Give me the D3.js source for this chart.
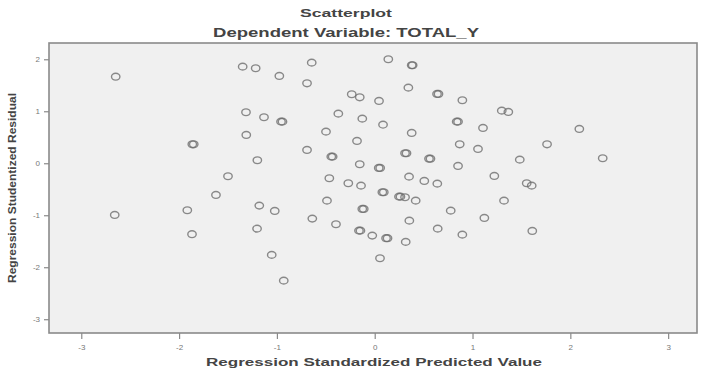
<!DOCTYPE html>
<html>
<head>
<meta charset="utf-8">
<script src="https://cdn.jsdelivr.net/npm/d3@7"></script>
<style>
    html, body { margin: 0; padding: 0; background: #fff; }
    #chart { width: 718px; height: 377px; }
</style>
</head>
<body>
<div id="chart"></div>
<script>
(function () {

    // regression standardized predicted value (x) / studentized residual (y)
    var predX = [
        -2.648, -1.350, -1.217, -0.975, -0.644, 0.139, 0.378, 0.388, -0.692, 0.344,
        0.637, 0.652, -0.235, -0.153, 0.044, 0.896, 1.299, 1.366, -1.316, -1.132,
        -0.958, -0.943, -0.372, -0.127, 0.085, 0.838, 0.852, 1.107, -1.313, -0.498,
        0.378, 2.092, -1.865, -1.850, -0.181, -0.692, 0.869, 1.762, -1.200, -0.444,
        -0.430, 0.310, 0.325, 0.555, 0.570, 1.056, 2.331, 1.483, -0.153, 0.041,
        0.056, 0.852, -1.500, 0.351, 1.223, -0.464, -0.270, -0.140, 0.507, 0.640,
        1.554, 1.605, -1.623, 0.078, 0.093, 0.248, 0.263, 0.310, 0.419, -0.488,
        1.322, -1.916, -1.180, -1.022, -2.658, -0.127, -0.112, 0.777, -0.638, -0.396,
        0.354, 1.121, -1.203, -1.868, 0.644, -0.161, -0.146, -0.025, 0.116, 0.131,
        0.317, 0.896, 1.611, -1.053, 0.054, -0.930
    ];
    var residY = [
        1.665, 1.858, 1.827, 1.679, 1.935, 2.000, 1.885, 1.885, 1.538, 1.454,
        1.333, 1.333, 1.327, 1.269, 1.198, 1.212, 1.012, 0.987, 0.981, 0.885,
        0.800, 0.800, 0.954, 0.858, 0.742, 0.800, 0.800, 0.679, 0.544, 0.608,
        0.583, 0.660, 0.365, 0.365, 0.429, 0.256, 0.365, 0.365, 0.058, 0.127,
        0.127, 0.192, 0.192, 0.088, 0.088, 0.275, 0.096, 0.069, -0.019, -0.090,
        -0.090, -0.052, -0.250, -0.258, -0.244, -0.288, -0.385, -0.431, -0.340, -0.392,
        -0.385, -0.431, -0.610, -0.558, -0.558, -0.642, -0.642, -0.654, -0.719, -0.719,
        -0.719, -0.904, -0.815, -0.917, -0.994, -0.879, -0.879, -0.912, -1.065, -1.173,
        -1.104, -1.052, -1.258, -1.365, -1.258, -1.296, -1.296, -1.392, -1.442, -1.442,
        -1.513, -1.373, -1.302, -1.763, -1.827, -2.258
    ];

    var xTicks = [-3, -2, -1, 0, 1, 2, 3];
    var yTicks = [2, 1, 0, -1, -2, -3];

    var TITLE    = "Scatterplot";
    var SUBTITLE = "Dependent Variable: TOTAL_Y";
    var X_LABEL  = "Regression Standardized Predicted Value";
    var Y_LABEL  = "Regression Studentized Residual";

    var W = 718, H = 377;
    var margin = { top: 43, right: 21, bottom: 44, left: 49 };
    var iW = W - margin.left - margin.right;
    var iH = H - margin.top - margin.bottom;
    var FONT = "'Liberation Sans', Arial, sans-serif";

    var svg = d3.select("#chart")
        .append("svg")
        .attr("width", W)
        .attr("height", H);

    // titles (source image is stretched sideways, so use textLength)
    svg.append("text")
        .attr("x", 346).attr("y", 17)
        .attr("text-anchor", "middle")
        .attr("textLength", 92).attr("lengthAdjust", "spacingAndGlyphs")
        .style("font-family", FONT).style("font-size", "11px")
        .style("font-weight", "bold").style("fill", "#444")
        .text(TITLE);

    svg.append("text")
        .attr("x", 346).attr("y", 37)
        .attr("text-anchor", "middle")
        .attr("textLength", 266).attr("lengthAdjust", "spacingAndGlyphs")
        .style("font-family", FONT).style("font-size", "12px")
        .style("font-weight", "bold").style("fill", "#444")
        .text(SUBTITLE);

    var g = svg.append("g")
        .attr("transform", "translate(" + margin.left + "," + margin.top + ")");

    // plot background + frame
    g.append("rect")
        .attr("width", iW).attr("height", iH)
        .attr("fill", "#f0f0f0")
        .attr("stroke", "#8a8a8a")
        .attr("stroke-width", 1.6);

    /* scales */
    var xScale = d3.scaleLinear().domain([-3.33, 3.295]).range([0, iW]);
    var yScale = d3.scaleLinear().domain([-3.265, 2.313]).range([iH, 0]);

    /* axes */
    g.append("g")
        .attr("class", "axis axis-x")
        .attr("transform", "translate(0," + iH + ")")
        .call(d3.axisBottom(xScale).tickValues(xTicks).tickSize(6).tickPadding(5)
            .tickFormat(function (v) { return v; }));

    g.append("g")
        .attr("class", "axis axis-y")
        .call(d3.axisLeft(yScale).tickValues(yTicks).tickSize(5).tickPadding(4)
            .tickFormat(function (v) { return v; }));

    g.selectAll(".axis .domain").remove();
    g.selectAll(".axis line").style("stroke", "#8a8a8a").style("stroke-width", 1.2);
    g.selectAll(".axis text")
        .style("font-family", FONT)
        .style("font-size", "8px")
        .style("fill", "#777");

    // axis titles
    svg.append("text")
        .attr("x", 374).attr("y", 366)
        .attr("text-anchor", "middle")
        .attr("textLength", 336).attr("lengthAdjust", "spacingAndGlyphs")
        .style("font-family", FONT).style("font-size", "11px")
        .style("font-weight", "bold").style("fill", "#444")
        .text(X_LABEL);

    svg.append("text")
        .attr("transform", "translate(16,188) rotate(-90)")
        .attr("text-anchor", "middle")
        .attr("textLength", 190).attr("lengthAdjust", "spacingAndGlyphs")
        .style("font-family", FONT).style("font-size", "10px")
        .style("font-weight", "bold").style("fill", "#444")
        .text(Y_LABEL);

    /* points - hollow circles, a bit squashed like the source */
    var pts = predX.map(function (x, i) { return { x: x, y: residY[i] }; });

    g.selectAll(".pt")
        .data(pts)
        .enter().append("ellipse")
        .attr("class", "pt")
        .attr("cx", function (d) { return xScale(d.x); })
        .attr("cy", function (d) { return yScale(d.y); })
        .attr("rx", 4.2).attr("ry", 3.4)
        .attr("fill", "none")
        .attr("stroke", "#6e6e6e")
        .attr("stroke-opacity", 0.8)
        .attr("stroke-width", 1.4);

}());
</script>
</body>
</html>
